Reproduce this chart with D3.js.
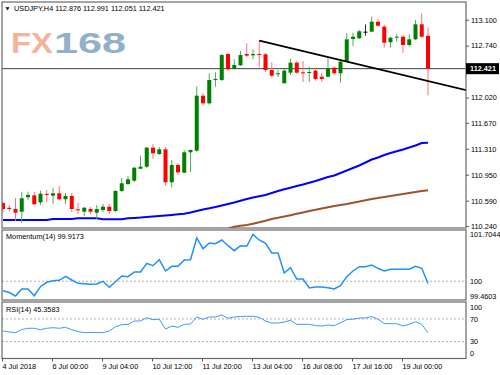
<!DOCTYPE html>
<html>
<head>
<meta charset="utf-8">
<title>USDJPY H4</title>
<script src="https://d3js.org/d3.v7.min.js"></script>
<style>
body { margin: 0; background: #fff; }
svg text { font-family: "Liberation Sans", Arial, sans-serif; font-size: 7.3px; fill: #000; }
</style>
</head>
<body>
<script>

// USDJPY H4 bars, 4 Jul 2018 - 19 Jul 2018 (69 bars)
var opens = [110.558,110.492,110.474,110.437,110.637,110.664,110.567,110.682,110.659,110.692,
	110.609,110.655,110.470,110.437,110.474,110.423,110.461,110.506,110.447,110.724,
	110.821,110.867,111.033,111.061,111.325,111.237,111.302,110.845,111.085,110.978,
	111.261,111.283,112.046,111.940,112.264,112.264,112.624,112.416,112.468,112.624,
	112.606,112.624,112.620,112.402,112.343,112.218,112.365,112.504,112.370,112.361,
	112.393,112.309,112.309,112.434,112.357,112.517,112.832,112.842,112.934,112.934,
	113.072,113.003,112.787,112.850,112.864,112.749,112.828,113.036,112.876];
var highs = [110.571,110.530,110.627,110.714,110.714,110.710,110.728,110.738,110.770,110.793,
	110.696,110.696,110.558,110.502,110.502,110.530,110.544,110.544,110.738,110.904,
	110.932,111.057,111.214,111.334,111.376,111.334,111.334,111.154,111.108,111.293,
	111.300,112.174,112.079,112.357,112.370,112.624,112.634,112.551,112.666,112.773,
	112.689,112.809,112.638,112.509,112.402,112.416,112.559,112.527,112.527,112.448,
	112.434,112.365,112.565,112.448,112.541,112.911,112.920,112.961,113.036,113.142,
	113.110,113.031,112.864,112.898,112.888,112.898,113.096,113.189,112.991];
var lows = [110.433,110.447,110.312,110.284,110.599,110.530,110.530,110.571,110.540,110.599,
	110.544,110.433,110.405,110.377,110.405,110.336,110.433,110.405,110.433,110.710,
	110.807,110.849,111.029,111.043,111.168,111.223,110.798,110.775,110.946,110.974,
	110.988,111.269,111.917,111.921,112.171,112.250,112.393,112.407,112.458,112.583,
	112.551,112.444,112.375,112.296,112.305,112.218,112.333,112.351,112.236,112.236,
	112.254,112.236,112.301,112.333,112.226,112.513,112.735,112.832,112.878,112.929,
	112.999,112.712,112.712,112.795,112.642,112.726,112.818,112.850,112.051];
var closes = [110.474,110.474,110.423,110.623,110.669,110.540,110.687,110.669,110.692,110.609,
	110.655,110.474,110.461,110.492,110.437,110.474,110.506,110.447,110.724,110.831,
	110.886,111.047,111.061,111.325,111.247,111.302,110.845,111.085,110.983,111.261,
	111.293,112.046,111.940,112.264,112.278,112.610,112.412,112.472,112.610,112.601,
	112.624,112.610,112.402,112.323,112.357,112.393,112.504,112.365,112.357,112.375,
	112.278,112.278,112.426,112.357,112.517,112.828,112.864,112.939,112.934,113.072,
	113.017,112.781,112.850,112.864,112.749,112.828,113.036,112.864,112.421];

// moving averages (blue all bars, brown from bar 36)
var maBlue = [110.322,110.322,110.322,110.322,110.322,110.322,110.322,110.322,110.336,110.336,
	110.336,110.336,110.345,110.345,110.345,110.345,110.332,110.332,110.332,110.332,
	110.345,110.350,110.355,110.362,110.370,110.378,110.385,110.392,110.400,110.408,
	110.426,110.447,110.468,110.484,110.502,110.523,110.544,110.565,110.590,110.613,
	110.634,110.651,110.669,110.696,110.724,110.748,110.770,110.793,110.814,110.839,
	110.863,110.891,110.918,110.939,110.974,111.008,111.043,111.078,111.119,111.161,
	111.189,111.223,111.251,111.275,111.300,111.328,111.355,111.390,111.394];
var maBrownStart = 36;
var maBrown = [110.204,110.228,110.241,110.253,110.271,110.290,110.312,110.336,110.352,110.370,
	110.388,110.408,110.426,110.447,110.463,110.481,110.499,110.516,110.530,110.544,
	110.562,110.578,110.596,110.613,110.627,110.641,110.655,110.669,110.682,110.696,
	110.710,110.724,110.734];

var momentum = [99.654,99.588,99.4603,99.716,99.716,99.470,99.800,99.960,100.019,100.033,
	100.179,100.044,99.924,99.905,99.887,99.898,99.997,99.778,99.982,100.190,
	100.165,100.336,100.336,100.654,100.566,100.785,100.373,100.544,100.544,100.774,
	100.785,101.577,101.186,101.394,101.369,101.504,101.296,101.113,101.296,101.274,
	101.7044,101.504,101.383,101.029,101.029,100.300,100.493,100.081,100.081,99.752,
	99.789,99.789,99.763,99.716,99.836,100.165,100.373,100.530,100.530,100.592,
	100.471,100.373,100.435,100.435,100.435,100.435,100.544,100.471,99.9173];

var rsi = [48.7,46.9,45.7,51.3,53.5,53.5,51.0,53.5,54.5,53.5,
	55.2,51.0,47.8,45.7,46.0,46.0,45.7,48.7,56.3,59.8,
	60.5,66.4,66.4,72.2,68.7,69.4,52.2,57.5,55.2,60.5,
	61.1,73.5,69.4,73.5,73.5,77.0,71.2,73.5,74.3,74.7,
	74.7,72.9,66.4,62.8,62.8,64.6,67.6,60.5,60.5,60.5,
	58.4,57.5,59.3,58.1,63.2,68.7,69.6,71.7,71.7,74.3,
	69.4,61.9,61.6,61.6,57.5,60.5,65.1,60.5,45.3583];

// 112.380 sits under the current price tag, so only its tick mark shows
var priceTicks = [113.100, 112.740, 112.380, 112.020, 111.670, 111.310, 110.950, 110.590, 110.240];
var hiddenTick = 112.380;
var momTicks = [101.7044, 100, 99.4603];
var rsiTicks = [100, 70, 30, 0];
var timeTicks = [0, 8, 16, 24, 32, 40, 48, 56, 64];
var timeLabels = ["4 Jul 2018", "6 Jul 00:00", "9 Jul 04:00", "10 Jul 12:00", "11 Jul 20:00",
	"13 Jul 04:00", "16 Jul 08:00", "17 Jul 16:00", "19 Jul 00:00"];

var trendBars = [41, 68];
var trendPrices = [112.809, 112.250];
var lastPrice = 112.421;
var title = "USDJPY,H4  112.876 112.991 112.051 112.421";

var W = 500, H = 375;
var L = 2, R = 466;
var main = {top: 2, bottom: 228};
var mom = {top: 230, bottom: 300};
var rsiP = {top: 302, bottom: 358.5};

var svg = d3.select("body").append("svg")
	.attr("width", W)
	.attr("height", H);

var x = d3.scaleLinear().domain([0, 68]).range([3, 428]);
var y = d3.scaleLinear().domain([110.24, 113.10]).range([225.9, 19.7]);
var yMom = d3.scaleLinear().domain([99.4603, 101.7044]).range([296, 234.5]);
var yRsi = d3.scaleLinear().domain([0, 100]).range([358.5, 302]);

function clip(id, p){
	svg.append("clipPath").attr("id", id)
		.append("rect")
		.attr("x", L).attr("y", p.top)
		.attr("width", R - L).attr("height", p.bottom - p.top);
}
clip("cMain", main);
clip("cMom", mom);
clip("cRsi", rsiP);

// watermark
var wm = svg.append("g").attr("font-family", "DejaVu Sans, sans-serif").attr("font-weight", "bold");
wm.append("text").text("FX")
	.attr("x", 11).attr("y", 53)
	.attr("textLength", 42).attr("lengthAdjust", "spacingAndGlyphs")
	.style("font-size", "29px").style("fill", "#f2b49c");
wm.append("text").text("168")
	.attr("x", 54).attr("y", 53)
	.attr("textLength", 72).attr("lengthAdjust", "spacingAndGlyphs")
	.style("font-size", "29px").style("fill", "#92b1c9");

// ---- main panel ----
var gm = svg.append("g").attr("clip-path", "url(#cMain)");

gm.append("line")
	.attr("x1", L).attr("x2", R)
	.attr("y1", y(lastPrice)).attr("y2", y(lastPrice))
	.attr("stroke", "#444").attr("stroke-width", 1);

var lineMa = d3.line().x(function(d){ return x(d[0]); }).y(function(d){ return y(d[1]); });

gm.append("path")
	.datum(maBlue.map(function(v, i){ return [i, v]; }))
	.attr("d", lineMa)
	.attr("fill", "none").attr("stroke", "#0000ff").attr("stroke-width", 2);

gm.append("path")
	.datum(maBrown.map(function(v, i){ return [i + maBrownStart, v]; }))
	.attr("d", lineMa)
	.attr("fill", "none").attr("stroke", "#a0522d").attr("stroke-width", 2);

var bars = d3.range(opens.length);
function col(i){
	if (closes[i] > opens[i]) return "#008000";
	if (closes[i] < opens[i]) return "#ff0000";
	return "#000";
}
function wickCol(i){
	if (closes[i] > opens[i]) return "#55aa55";
	if (closes[i] < opens[i]) return "#ff7070";
	return "#333";
}

gm.selectAll("line.wick")
	.data(bars)
	.enter()
	.append("line")
	.attr("class", "wick")
	.attr("x1", function(i){ return x(i); })
	.attr("x2", function(i){ return x(i); })
	.attr("y1", function(i){ return y(highs[i]); })
	.attr("y2", function(i){ return y(lows[i]); })
	.attr("stroke", wickCol)
	.attr("stroke-width", 1);

gm.selectAll("rect.body")
	.data(bars)
	.enter()
	.append("rect")
	.attr("class", "body")
	.attr("x", function(i){ return x(i) - 2; })
	.attr("width", 4)
	.attr("y", function(i){ return y(Math.max(opens[i], closes[i])); })
	.attr("height", function(i){
		return Math.max(1, y(Math.min(opens[i], closes[i])) - y(Math.max(opens[i], closes[i])));
	})
	.attr("fill", col);

// trend line, extended to the right edge
var slope = (trendPrices[1] - trendPrices[0]) / (trendBars[1] - trendBars[0]);
var trendEnd = 76;
gm.append("line")
	.attr("x1", x(trendBars[0])).attr("y1", y(trendPrices[0]))
	.attr("x2", x(trendEnd)).attr("y2", y(trendPrices[0] + slope * (trendEnd - trendBars[0])))
	.attr("stroke", "#000").attr("stroke-width", 1.8);

// ---- momentum panel ----
var gmo = svg.append("g").attr("clip-path", "url(#cMom)");
gmo.append("line")
	.attr("x1", L).attr("x2", R)
	.attr("y1", yMom(100)).attr("y2", yMom(100))
	.attr("stroke", "#b0b0b0").attr("stroke-dasharray", "2,2");
gmo.append("path")
	.datum(momentum)
	.attr("d", d3.line().x(function(d, i){ return x(i); }).y(function(d){ return yMom(d); }))
	.attr("fill", "none").attr("stroke", "#1e90ff").attr("stroke-width", 1.5);

// ---- RSI panel ----
var gr = svg.append("g").attr("clip-path", "url(#cRsi)");
[70, 30].forEach(function(v){
	gr.append("line")
		.attr("x1", L).attr("x2", R)
		.attr("y1", yRsi(v)).attr("y2", yRsi(v))
		.attr("stroke", "#b0b0b0").attr("stroke-dasharray", "2,2");
});
gr.append("path")
	.datum(rsi)
	.attr("d", d3.line().x(function(d, i){ return x(i); }).y(function(d){ return yRsi(d); }))
	.attr("fill", "none").attr("stroke", "#3a9bff").attr("stroke-width", 1);

// panel borders
[main, mom, rsiP].forEach(function(p){
	svg.append("rect")
		.attr("x", L).attr("y", p.top)
		.attr("width", R - L).attr("height", p.bottom - p.top)
		.attr("fill", "none").attr("stroke", "#6a6a6a").attr("stroke-width", 1.2);
});

// ---- axes ----
function styleAxis(g){
	g.select(".domain").remove();
	g.selectAll(".tick line").attr("stroke", "#555");
	g.selectAll(".tick text").style("fill", "#000").attr("font-size", null);
	g.attr("font-family", null).attr("font-size", null);
}

svg.append("g")
	.attr("transform", "translate(" + R + ",0)")
	.call(d3.axisRight(y).tickValues(priceTicks).tickSize(3).tickPadding(2)
		.tickFormat(function(d){ return d === hiddenTick ? "" : d3.format(".3f")(d); }))
	.call(styleAxis);

// current price tag
svg.append("rect")
	.attr("x", R).attr("y", y(lastPrice) - 5.5)
	.attr("width", 33).attr("height", 11)
	.attr("fill", "#000");
svg.append("text")
	.attr("x", R + 4).attr("y", y(lastPrice) + 2.5)
	.style("fill", "#fff").style("font-weight", "bold")
	.text(d3.format(".3f")(lastPrice));

svg.append("g")
	.attr("transform", "translate(" + R + ",0)")
	.call(d3.axisRight(yMom).tickValues(momTicks).tickSize(0).tickPadding(4)
		.tickFormat(function(d){ return d === 100 ? "100" : d3.format(".4f")(d); }))
	.call(styleAxis);

var ra = svg.append("g")
	.attr("transform", "translate(" + R + ",0)")
	.call(d3.axisRight(yRsi).tickValues(rsiTicks).tickSize(0).tickPadding(4))
	.call(styleAxis);
ra.selectAll(".tick text").attr("dy", function(d){
	return d === 100 ? "1.05em" : (d === 0 ? "-0.35em" : "0.32em");
});

var xa = svg.append("g")
	.attr("transform", "translate(0," + rsiP.bottom + ")")
	.call(d3.axisBottom(x).tickValues(timeTicks).tickSize(3).tickPadding(2)
		.tickFormat(function(d, i){ return timeLabels[i]; }))
	.call(styleAxis);
xa.selectAll(".tick line").attr("transform", "translate(-1,0)");
xa.selectAll(".tick text").attr("text-anchor", "start").attr("x", -1);

// ---- labels ----
svg.append("path")
	.attr("d", "M5.5,7.2 L9.5,7.2 L7.5,10.2 Z")
	.attr("fill", "#000");
svg.append("text").attr("x", 14).attr("y", 10.5).text(title);
svg.append("text").attr("x", 6).attr("y", 239).text("Momentum(14) 99.9173");
svg.append("text").attr("x", 6).attr("y", 311.5).text("RSI(14) 45.3583");

</script>
</body>
</html>
